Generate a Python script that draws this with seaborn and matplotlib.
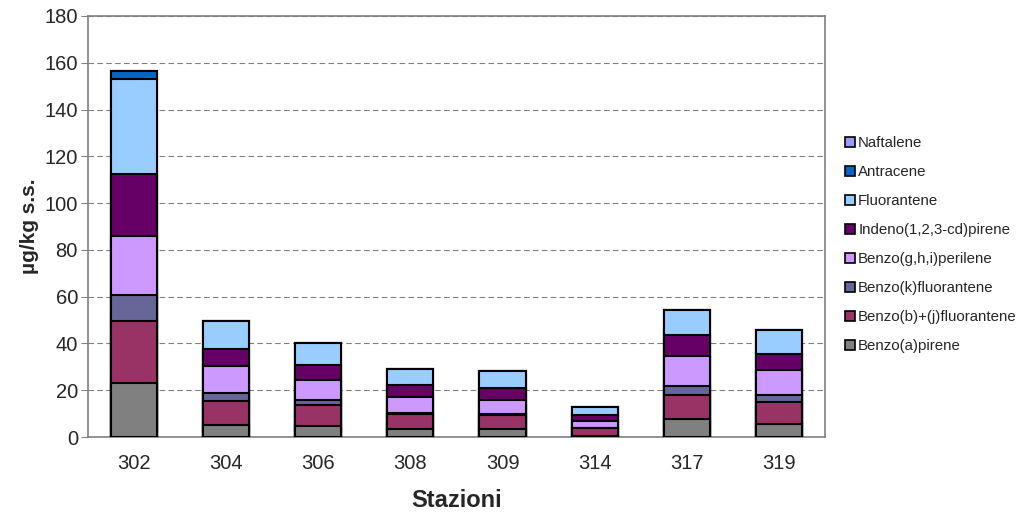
import matplotlib
matplotlib.use("Agg")
import matplotlib.pyplot as plt
from matplotlib.patches import Patch
import seaborn as sns
import pandas as pd
import numpy as np

# stazioni e concentrazioni (µg/kg s.s.)
stazioni = ["302", "304", "306", "308", "309", "314", "317", "319"]

benzo_a_pirene = [22.9, 5.3, 4.7, 3.6, 3.6, 0.3, 7.7, 5.7]
benzo_bj_fluorantene = [26.7, 10.2, 8.9, 6.4, 5.8, 3.5, 10.2, 9.2]
benzo_k_fluorantene = [11.1, 3.5, 2.4, 0.4, 0.3, 0.2, 3.8, 3.2]
benzo_ghi_perilene = [25.3, 11.4, 8.6, 6.8, 6.3, 3.0, 12.9, 10.5]
indeno_pirene = [26.4, 7.3, 6.1, 4.9, 5.0, 2.5, 9.0, 7.1]
fluorantene = [40.7, 12.1, 9.3, 7.1, 7.1, 3.2, 10.7, 10.0]
antracene = [3.3, 0, 0, 0, 0, 0, 0, 0]
naftalene = [0, 0, 0, 0, 0, 0, 0, 0]

composti = ["Benzo(a)pirene", "Benzo(b)+(j)fluorantene", "Benzo(k)fluorantene",
            "Benzo(g,h,i)perilene", "Indeno(1,2,3-cd)pirene", "Fluorantene",
            "Antracene", "Naftalene"]
colori = ["#808080", "#993366", "#666699", "#CC99FF", "#660066", "#99CCFF",
          "#0066CC", "#9999FF"]

df = pd.DataFrame({
    "Benzo(a)pirene": benzo_a_pirene,
    "Benzo(b)+(j)fluorantene": benzo_bj_fluorantene,
    "Benzo(k)fluorantene": benzo_k_fluorantene,
    "Benzo(g,h,i)perilene": benzo_ghi_perilene,
    "Indeno(1,2,3-cd)pirene": indeno_pirene,
    "Fluorantene": fluorantene,
    "Antracene": antracene,
    "Naftalene": naftalene,
}, index=stazioni)
cumulato = df[composti].cumsum(axis=1)

sns.set_style("white")
plt.rcParams["font.family"] = ["Liberation Sans", "DejaVu Sans"]

fig = plt.figure(figsize=(10.2, 5.16), dpi=100)
ax = fig.add_axes([0.086, 0.153, 0.723, 0.816])

# barre impilate: si disegna dal totale verso il basso
for nome, col in reversed(list(zip(composti, colori))):
    sns.barplot(x=stazioni, y=cumulato[nome].values, color=col, width=0.5,
                edgecolor="black", linewidth=1.5, saturation=1, ax=ax, zorder=3)

ax.set_ylim(0, 180)
ax.set_xlim(-0.5, 7.5)
ax.set_yticks(np.arange(0, 181, 20))
ax.yaxis.grid(True, linestyle=(0, (5, 3)), color="#808080", linewidth=0.8)
ax.xaxis.grid(False)
ax.set_axisbelow(True)

for s in ax.spines.values():
    s.set_color("#808080")
    s.set_linewidth(1.2)
    s.set_visible(True)

ax.set_xticks(np.arange(-0.5, 8, 1), minor=True)
ax.tick_params(axis="x", which="major", length=0, labelsize=14.5, pad=12)
ax.tick_params(axis="x", which="minor", length=5, color="#808080", direction="out")
ax.tick_params(axis="y", length=5, color="#808080", direction="out", labelsize=14.5,
               left=True, pad=2)

ax.set_xlabel("Stazioni", fontsize=17, fontweight="bold", labelpad=12)
ax.set_ylabel("µg/kg s.s.", fontsize=15, fontweight="bold")
ax.yaxis.set_label_coords(-0.066, 0.5)

handles = [Patch(facecolor=c, edgecolor="black", linewidth=1.2, label=n)
           for n, c in zip(composti, colori)][::-1]
fig.legend(handles=handles, loc="upper left", bbox_to_anchor=(0.823, 0.748),
           frameon=False, fontsize=10.8, handlelength=0.65, handleheight=0.65,
           handletextpad=0.2, labelspacing=1.0, borderaxespad=0)

fig.savefig("out.png", dpi=100)
